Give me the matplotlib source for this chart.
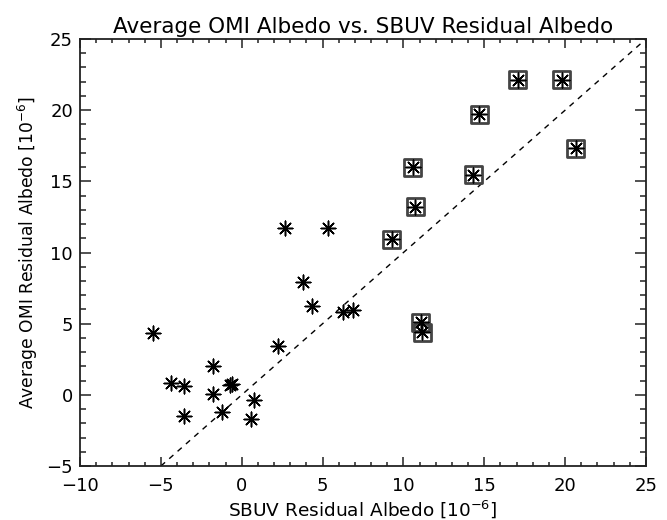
import numpy as np
import matplotlib
matplotlib.use("Agg")
import matplotlib.pyplot as plt
from matplotlib.ticker import MultipleLocator

# SBUV residual albedo (x) vs average OMI residual albedo (y), units 1e-6
sbuv_plain = [-5.50, -4.35, -3.55, -3.55, -1.76, -1.76, -1.20, -0.70, -0.60,
              0.76, 0.59, 2.23, 3.77, 4.37, 6.25, 6.90, 2.68, 5.36]
omi_plain = [4.33, 0.81, 0.64, -1.47, 2.05, 0.04, -1.18, 0.70, 0.78,
             -0.36, -1.68, 3.45, 7.95, 6.22, 5.80, 5.97, 11.70, 11.75]

# points that are also marked with a box
sbuv_box = [10.57, 14.32, 10.72, 9.28, 11.07, 11.17, 17.07, 19.79, 14.68, 20.67]
omi_box = [15.99, 15.45, 13.22, 10.93, 5.10, 4.40, 22.13, 22.13, 19.71, 17.33]

one_to_one = [-5, 25]

plt.rcParams['font.family'] = ['DejaVu Sans']

fig = plt.figure(figsize=(6.67, 5.2), dpi=100)
ax = fig.add_axes([0.120, 0.1038, 0.8485, 0.8212])

ax.plot(one_to_one, one_to_one, color='black', linestyle=(0, (4, 4)), linewidth=1.0)

ax.scatter(sbuv_box, omi_box, marker='s', s=150, facecolors='none',
           edgecolors='#444444', linewidths=2.0, zorder=3)
asterisk = (8, 2, 0)
ax.scatter(sbuv_plain + sbuv_box, omi_plain + omi_box, marker=asterisk, s=110,
           color='black', linewidths=1.1, zorder=4)

ax.set_xlim(-10, 25)
ax.set_ylim(-5, 25)
ax.xaxis.set_major_locator(MultipleLocator(5))
ax.xaxis.set_minor_locator(MultipleLocator(1))
ax.yaxis.set_major_locator(MultipleLocator(5))
ax.yaxis.set_minor_locator(MultipleLocator(1))

ax.tick_params(axis='both', which='both', direction='in', top=True, right=True,
               labelsize=13, width=1.1, color='#222222')
ax.tick_params(axis='x', which='major', length=6.3, pad=8)
ax.tick_params(axis='x', which='minor', length=3.1)
ax.tick_params(axis='y', which='major', length=8, pad=5)
ax.tick_params(axis='y', which='minor', length=4.3)
for s in ax.spines.values():
    s.set_linewidth(1.3)
    s.set_color('#222222')

ax.set_title('Average OMI Albedo vs. SBUV Residual Albedo', fontsize=15.5, pad=4)
ax.set_xlabel('SBUV Residual Albedo $\\left[10^{-6}\\right]$', fontsize=13.3, labelpad=2)
ax.set_ylabel('Average OMI Residual Albedo $\\left[10^{-6}\\right]$', fontsize=12.3, labelpad=5)

fig.savefig('out.png', dpi=100)
